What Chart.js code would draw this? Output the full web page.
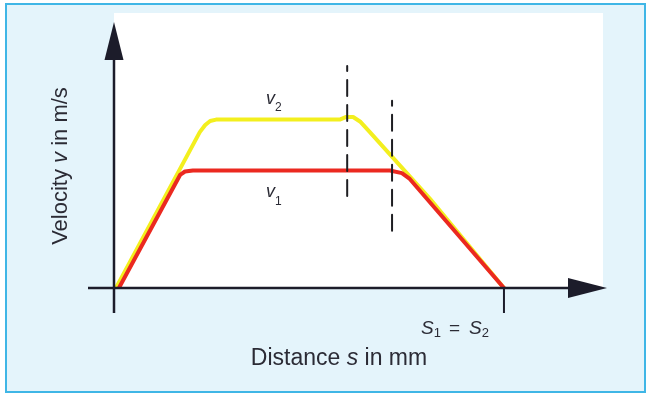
<!DOCTYPE html>
<html>
<head>
<meta charset="utf-8">
<script src="https://cdn.jsdelivr.net/npm/chart.js@4.4.1/dist/chart.umd.min.js"></script>
<style>
  html, body { margin: 0; padding: 0; background: #fff; }
  #wrap { position: relative; width: 647px; height: 396px; overflow: hidden; }
  #frame { position: absolute; left: 5px; top: 3px; width: 637px; height: 386px; border: 2px solid #3fb6e6; background: #e4f4fb; }
  #c { position: absolute; left: 0; top: 0; }
</style>
</head>
<body>
<div id="wrap">
  <div id="frame"></div>
  <canvas id="c" width="647" height="396"></canvas>
</div>
<script>
// v-s Diagramm: zwei Bewegungsprofile mit gleichem Weg s1 = s2
const v2Dist  = [0.4, 17.4, 18.5, 19.5, 20.7, 45.8, 47.1, 48.5, 49.9, 51.9, 64.1, 79.1];
const v2Speed = [0, 58.6, 61.3, 62.8, 63.3, 63.3, 64.3, 64.3, 62.6, 58.6, 33.5, 0];
const v1Dist  = [1.0, 13.4, 14.4, 16.0, 56.0, 58.4, 60.0, 79.1];
const v1Speed = [0, 42.5, 43.8, 44.2, 44.2, 43.2, 41.0, 0];

// gestrichelte Markierungen (Bremsbeginn)
const markerDist = [47.3, 56.4];
const markerFrom = [34.6, 21.5];
const markerTo   = [83.5, 70.4];

const endDist = 79.1;   // s1 = s2
const xTitle = ['Distance ', 's', ' in mm'];
const yTitle = ['Velocity ', 'v', ' in m/s'];

const AXIS = '#1c1c2a';
const TEXT = '#2b2b35';
const FONT = '"Liberation Sans", Arial, Helvetica, sans-serif';

const toPoints = (xs, ys) => xs.map((x, i) => ({ x: x, y: ys[i] }));

function drawParts(ctx, parts, x, y) {
    parts.forEach(p => {
        ctx.font = p.font;
        x += (p.dx || 0);
        ctx.fillText(p.text, x, y + (p.dy || 0));
        x += ctx.measureText(p.text).width;
    });
}
function partsWidth(ctx, parts) {
    let w = 0;
    parts.forEach(p => { ctx.font = p.font; w += ctx.measureText(p.text).width + (p.dx || 0); });
    return w;
}

const sketchPlugin = {
    id: 'sketch',
    beforeDraw(chart) {
        const { ctx, chartArea: a } = chart;
        ctx.save();
        ctx.fillStyle = '#ffffff';
        ctx.fillRect(a.left, 13, a.right - 4 - a.left, a.bottom - 13);
        ctx.restore();
    },
    afterDatasetsDraw(chart) {
        const { ctx, chartArea: a, scales } = chart;
        ctx.save();
        ctx.strokeStyle = AXIS;
        ctx.fillStyle = AXIS;
        ctx.lineWidth = 2.5;

        // y-Achse mit Pfeil
        ctx.beginPath();
        ctx.moveTo(a.left, a.bottom + 25);
        ctx.lineTo(a.left, a.top + 36);
        ctx.stroke();
        ctx.beginPath();
        ctx.moveTo(a.left, a.top);
        ctx.lineTo(a.left - 9.5, a.top + 38);
        ctx.lineTo(a.left + 9.5, a.top + 38);
        ctx.closePath();
        ctx.fill();

        // x-Achse mit Pfeil
        ctx.beginPath();
        ctx.moveTo(a.left - 26, a.bottom);
        ctx.lineTo(a.right - 37, a.bottom);
        ctx.stroke();
        ctx.beginPath();
        ctx.moveTo(a.right, a.bottom);
        ctx.lineTo(a.right - 39, a.bottom - 10);
        ctx.lineTo(a.right - 39, a.bottom + 10);
        ctx.closePath();
        ctx.fill();

        // Strich bei s1 = s2
        const tx = scales.x.getPixelForValue(endDist);
        ctx.lineWidth = 2;
        ctx.beginPath();
        ctx.moveTo(tx, a.bottom);
        ctx.lineTo(tx, a.bottom + 25);
        ctx.stroke();

        // Texte
        ctx.fillStyle = TEXT;
        ctx.textBaseline = 'alphabetic';
        ctx.textAlign = 'left';

        const big = '23px ' + FONT, bigIt = 'italic 23px ' + FONT;
        const xParts = [
            { text: xTitle[0], font: big },
            { text: xTitle[1], font: bigIt },
            { text: xTitle[2], font: big }
        ];
        drawParts(ctx, xParts, 339 - partsWidth(ctx, xParts) / 2, 365);

        const mid = '22px ' + FONT, midIt = 'italic 22px ' + FONT;
        const yParts = [
            { text: yTitle[0], font: mid },
            { text: yTitle[1], font: midIt },
            { text: yTitle[2], font: mid }
        ];
        ctx.save();
        ctx.translate(67, 166);
        ctx.rotate(-Math.PI / 2);
        drawParts(ctx, yParts, -partsWidth(ctx, yParts) / 2, 0);
        ctx.restore();

        const sIt = 'italic 19px ' + FONT, sub = '13px ' + FONT, eq = '19px ' + FONT;
        drawParts(ctx, [
            { text: 'S', font: sIt },
            { text: '1', font: sub, dy: 3 },
            { text: '=', font: eq, dx: 8 },
            { text: 'S', font: sIt, dx: 9 },
            { text: '2', font: sub, dy: 3 }
        ], 421, 334);

        const vIt = 'italic 18px ' + FONT, vSub = '12px ' + FONT;
        drawParts(ctx, [{ text: 'v', font: vIt }, { text: '2', font: vSub, dy: 7 }], 266, 104);
        drawParts(ctx, [{ text: 'v', font: vIt }, { text: '1', font: vSub, dy: 8 }], 266, 197);

        ctx.restore();
    }
};

const markerSets = markerDist.map((d, i) => ({
    data: [{ x: d, y: markerFrom[i] }, { x: d, y: markerTo[i] }],
    borderColor: '#1e1e22',
    borderWidth: 2,
    borderDash: [16, 9],
    order: -1
}));

new Chart(document.getElementById('c'), {
    type: 'line',
    data: {
        datasets: [
            { label: 'v1', data: toPoints(v1Dist, v1Speed), borderColor: '#eb2920', borderWidth: 4, order: 0 },
            { label: 'v2', data: toPoints(v2Dist, v2Speed), borderColor: '#f3ef1e', borderWidth: 4, order: 1 },
            ...markerSets
        ]
    },
    options: {
        responsive: false,
        animation: false,
        devicePixelRatio: 1,
        layout: { padding: { left: 114, right: 40, top: 22, bottom: 108 } },
        elements: {
            point: { radius: 0, hoverRadius: 0 },
            line: { tension: 0, borderJoinStyle: 'round', borderCapStyle: 'round', fill: false }
        },
        scales: {
            x: { type: 'linear', min: 0, max: 100, display: false },
            y: { type: 'linear', min: 0, max: 100, display: false }
        },
        plugins: { legend: { display: false }, tooltip: { enabled: false } }
    },
    plugins: [sketchPlugin]
});
</script>
</body>
</html>
